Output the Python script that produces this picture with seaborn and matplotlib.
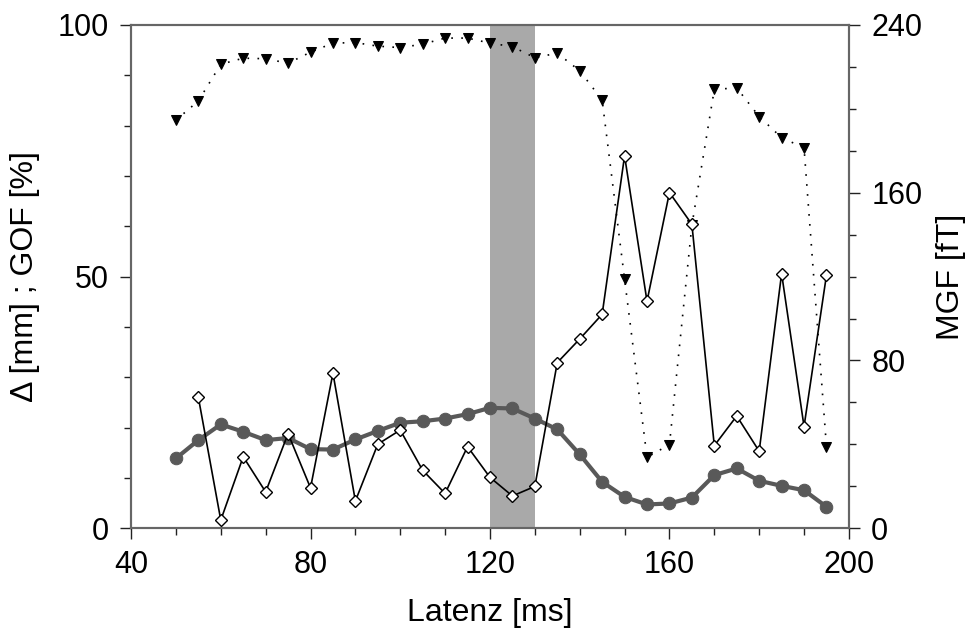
import matplotlib
matplotlib.use("Agg")
import matplotlib.pyplot as plt
import seaborn as sns
import pandas as pd
import numpy as np
from matplotlib.ticker import MultipleLocator

latenz = [50, 55, 60, 65, 70, 75, 80, 85, 90, 95, 100, 105, 110, 115, 120,
          125, 130, 135, 140, 145, 150, 155, 160, 165, 170, 175, 180, 185, 190, 195]
gof = [81.1, 84.9, 92.2, 93.4, 93.3, 92.4, 94.6, 96.4, 96.5, 95.8, 95.5, 96.2, 97.4, 97.4, 96.4,
       95.7, 93.5, 94.4, 90.9, 85.1, 49.5, 14.1, 16.6, 60.2, 87.2, 87.5, 81.8, 77.6, 75.6, 16.2]
delta = [None, 26.0, 1.6, 14.2, 7.2, 18.8, 8.0, 30.8, 5.4, 16.7, 19.5, 11.5, 6.9, 16.2, 10.1,
         6.4, 8.3, 32.9, 37.6, 42.5, 74.0, 45.1, 66.7, 60.4, 16.4, 22.3, 15.3, 50.6, 20.2, 50.3]
mgf = [33.3, 42.0, 49.5, 46.0, 42.0, 43.0, 37.7, 37.5, 42.3, 46.4, 50.3, 51.0, 52.3, 54.4, 57.4,
       57.1, 52.3, 47.1, 35.2, 22.1, 14.9, 11.3, 11.8, 14.6, 25.3, 28.5, 22.6, 20.2, 18.1, 10.2]
window = (120, 130)

df = pd.DataFrame({"latenz": latenz, "gof": gof,
                   "delta": pd.array(delta, dtype="Float64").astype(float), "mgf": mgf})

sns.set_style("ticks")
plt.rcParams["font.family"] = ["Liberation Sans", "DejaVu Sans"]
plt.rcParams["text.color"] = "black"
plt.rcParams["axes.labelcolor"] = "black"
plt.rcParams["xtick.color"] = "black"
plt.rcParams["ytick.color"] = "black"

fig, ax = plt.subplots(figsize=(9.78, 6.41), dpi=100)
fig.subplots_adjust(left=0.134, right=0.868, top=0.961, bottom=0.176)
ax2 = ax.twinx()

ax2.axvspan(window[0], window[1], color="#a9a9a9", zorder=0, lw=0)
sns.lineplot(data=df, x="latenz", y="mgf", ax=ax2, color="#595959", lw=3,
             marker="o", markersize=9, markeredgecolor="#595959", zorder=2)

sns.lineplot(data=df, x="latenz", y="gof", ax=ax, color="black", lw=1.2,
             linestyle=(0, (1, 5)), marker="v", markersize=7,
             markerfacecolor="black", markeredgecolor="black", zorder=3)
sns.lineplot(data=df.dropna(subset=["delta"]), x="latenz", y="delta", ax=ax, color="black", lw=1.2,
             marker="D", markersize=6, markerfacecolor="white",
             markeredgecolor="black", markeredgewidth=1, zorder=4)

ax.set_zorder(ax2.get_zorder() + 1)
ax.patch.set_visible(False)

ax.set_xlim(40, 200)
ax.set_ylim(0, 100)
ax2.set_ylim(0, 240)

ax.xaxis.set_major_locator(MultipleLocator(40))
ax.xaxis.set_minor_locator(MultipleLocator(10))
ax.yaxis.set_major_locator(MultipleLocator(50))
ax.yaxis.set_minor_locator(MultipleLocator(10))
ax2.yaxis.set_major_locator(MultipleLocator(80))
ax2.yaxis.set_minor_locator(MultipleLocator(20))

fs = 22
lfs = 23
ax.set_xlabel("Latenz [ms]", fontsize=lfs, labelpad=13, color="black")
ax.set_ylabel("\u0394 [mm] ; GOF [%]", fontsize=lfs, labelpad=13, color="black")
ax2.set_ylabel("MGF [fT]", fontsize=lfs, labelpad=10, color="black")

for a in (ax, ax2):
    a.tick_params(which="major", length=8, width=1, color="#222222", labelcolor="black",
                  labelsize=fs, pad=8)
    a.tick_params(which="minor", length=5, width=1, color="#222222")
    for s in a.spines.values():
        s.set_color("#666666")
        s.set_linewidth(1.5)
        s.set_visible(True)

fig.savefig("out.png", dpi=100)
